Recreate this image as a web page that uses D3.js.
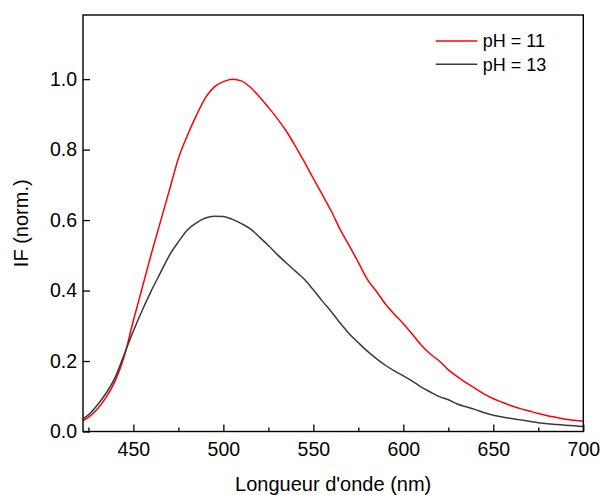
<!DOCTYPE html>
<html><head><meta charset="utf-8">
<script src="https://cdn.jsdelivr.net/npm/d3@7"></script>
<style>body{margin:0;background:#fff}svg{display:block}text{font-family:"Liberation Sans",Arial,sans-serif;fill:#000}</style>
</head><body>
<svg id="c" width="602" height="495"></svg>
<script>
const wavelengths = [422,425,430,435,440,445,450,455,460,465,470,475,480,485,490,495,500,505,510,515,520,525,530,535,540,545,550,555,560,565,570,575,580,585,590,595,600,605,610,615,620,625,630,635,640,645,650,655,660,665,670,675,680,685,690,695,700];
const ph11 = [.031,.040,.064,.098,.145,.215,.315,.410,.505,.595,.685,.775,.840,.897,.947,.978,.993,1.000,.995,.977,.950,.920,.888,.852,.810,.765,.718,.672,.625,.572,.527,.480,.432,.398,.362,.333,.306,.276,.245,.220,.200,.175,.156,.138,.122,.106,.093,.083,.073,.065,.058,.051,.045,.040,.035,.032,.029];
const ph13 = [.036,.047,.075,.110,.155,.220,.285,.345,.400,.450,.500,.538,.572,.592,.606,.611,.610,.602,.590,.575,.552,.528,.502,.478,.455,.432,.402,.370,.340,.307,.277,.252,.228,.207,.188,.172,.158,.143,.126,.112,.099,.090,.078,.070,.062,.053,.046,.041,.037,.033,.029,.025,.022,.020,.018,.016,.014];
const xTicks = [450,500,550,600,650,700];
const xMinor = [425,475,525,575,625,675];
const yTicks = [0,0.2,0.4,0.6,0.8,1.0];
const seriesNames = ["pH = 11","pH = 13"];
const seriesColors = ["#ff0000","#3a3a3a"];

const L=83, R=583.3, T=15, B=431.5;
const svg = d3.select("#c");
const x = d3.scaleLinear().domain([422,700]).range([L,R]);
const y = d3.scaleLinear().domain([0,1.182]).range([B,T]);

const line = d3.line().x(d=>x(d[0])).y(d=>y(d[1])).curve(d3.curveMonotoneX);
[ph11,ph13].forEach((s,i)=>{
  svg.append("path").datum(wavelengths.map((w,j)=>[w,s[j]]))
    .attr("d",line).attr("fill","none").attr("stroke",seriesColors[i]).attr("stroke-width",1.5);
});

// frame
svg.append("rect").attr("x",L).attr("y",T).attr("width",R-L).attr("height",B-T)
  .attr("fill","none").attr("stroke","#000").attr("stroke-width",1.4);

// x axis
const gx = svg.append("g").attr("transform",`translate(0,${B})`)
  .call(d3.axisBottom(x).tickValues(xTicks).tickSize(-7).tickPadding(12).tickFormat(d3.format("d")));
gx.select(".domain").remove();
gx.selectAll("line").attr("stroke-width",1.3);
gx.selectAll("text").attr("font-size","19.5px").attr("font-family","Liberation Sans, Arial, sans-serif").attr("dy","0.71em").attr("y",11);
const gxm = svg.append("g").attr("transform",`translate(0,${B})`)
  .call(d3.axisBottom(x).tickValues(xMinor).tickSize(-4).tickFormat(""));
gxm.select(".domain").remove();
gxm.selectAll("line").attr("stroke-width",1.3);

// y axis
const gy = svg.append("g").attr("transform",`translate(${L},0)`)
  .call(d3.axisLeft(y).tickValues(yTicks).tickSize(-7).tickPadding(6).tickFormat(d3.format(".1f")));
gy.select(".domain").remove();
gy.selectAll("line").attr("stroke-width",1.3);
gy.selectAll("text").attr("font-size","19.5px").attr("font-family","Liberation Sans, Arial, sans-serif").attr("x",-6);

// titles
svg.append("text").attr("x",(L+R)/2).attr("y",491).attr("text-anchor","middle")
  .attr("font-size","20px").text("Longueur d'onde (nm)");
svg.append("text").attr("transform",`translate(28,${(T+B)/2}) rotate(-90)`).attr("text-anchor","middle")
  .attr("font-size","20px").text("IF (norm.)");

// legend
seriesNames.forEach((n,i)=>{
  const ly = 41 + i*23.3;
  svg.append("line").attr("x1",435.7).attr("x2",477.3).attr("y1",ly).attr("y2",ly)
    .attr("stroke",seriesColors[i]).attr("stroke-width",1.5);
  svg.append("text").attr("x",482.7).attr("y",ly+6.3).attr("font-size","18px").text(n);
});
</script>
</body></html>
